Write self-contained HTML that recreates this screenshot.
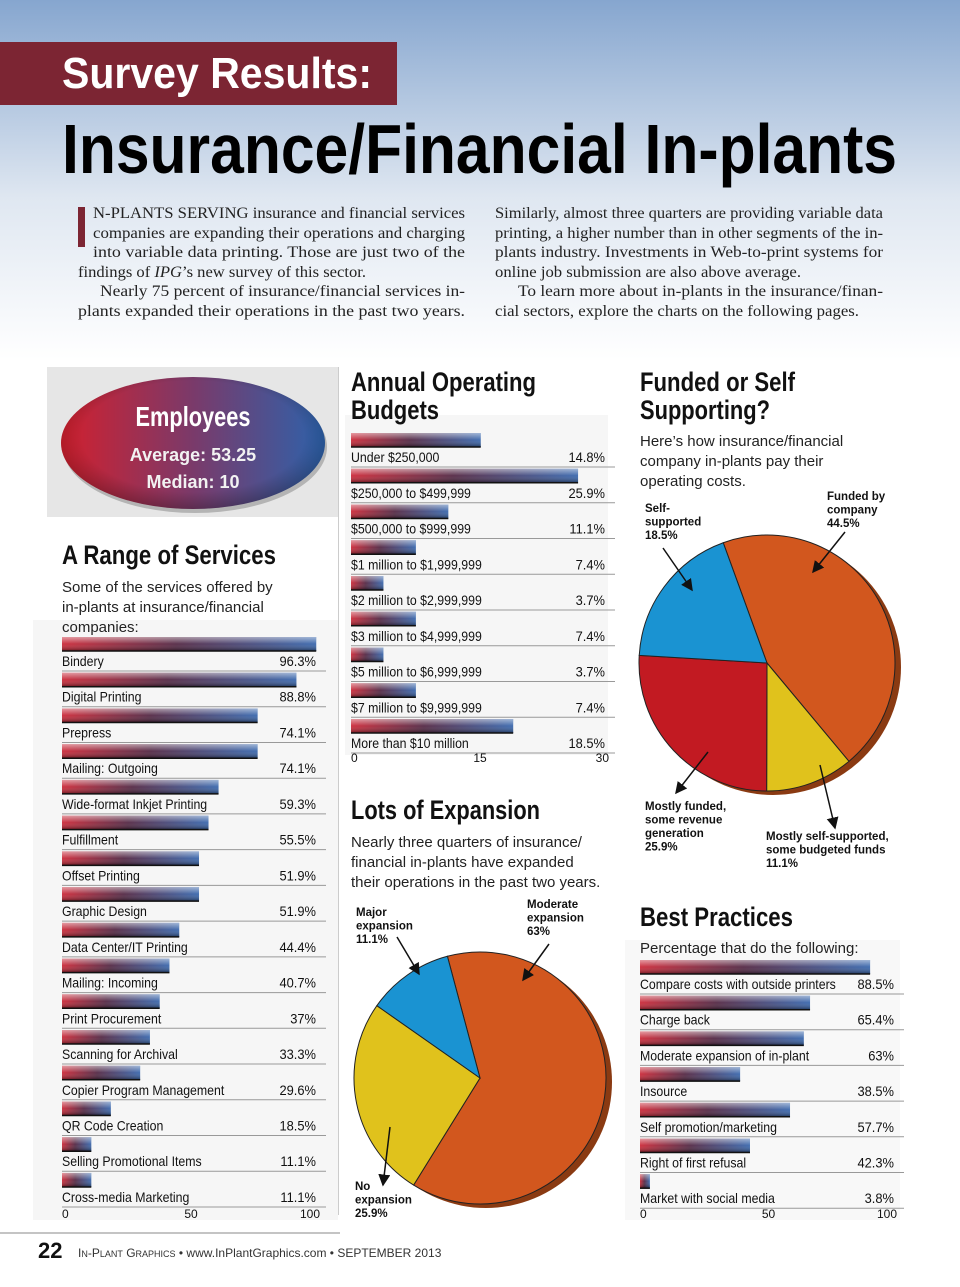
<!DOCTYPE html>
<html><head><meta charset="utf-8">
<style>
html,body{margin:0;padding:0;background:#fff;}
svg{display:block;}
.sans{font-family:"Liberation Sans",sans-serif;}
.serif{font-family:"Liberation Serif",serif;}
</style></head>
<body>
<svg id="page" width="960" height="1287" viewBox="0 0 960 1287" xmlns="http://www.w3.org/2000/svg">
<defs>
<linearGradient id="bg" x1="0" y1="0" x2="0" y2="1">
<stop offset="0" stop-color="#86a6cf"/><stop offset="0.55" stop-color="#dfe7f1"/><stop offset="1" stop-color="#ffffff"/>
</linearGradient>
<linearGradient id="barH" x1="0" y1="0" x2="1" y2="0">
<stop offset="0" stop-color="#c81e2e"/><stop offset="0.45" stop-color="#4a1c3a"/><stop offset="1" stop-color="#2f5fa8"/>
</linearGradient>
<linearGradient id="barV" x1="0" y1="0" x2="0" y2="1">
<stop offset="0" stop-color="#fff" stop-opacity="0.55"/><stop offset="0.5" stop-color="#fff" stop-opacity="0.1"/><stop offset="1" stop-color="#000" stop-opacity="0.45"/>
</linearGradient>
<linearGradient id="oval" x1="0" y1="0" x2="1" y2="0">
<stop offset="0" stop-color="#d2202e"/><stop offset="0.5" stop-color="#7a3a6a"/><stop offset="1" stop-color="#2d62ab"/>
</linearGradient>
<radialGradient id="ovalShade" cx="0.5" cy="0.45" r="0.6">
<stop offset="0.7" stop-color="#000" stop-opacity="0"/><stop offset="1" stop-color="#000" stop-opacity="0.35"/>
</radialGradient>
<marker id="arr" markerWidth="8" markerHeight="8" refX="7" refY="4" orient="auto"><path d="M0,0 L8,4 L0,8 z" fill="#111"/></marker>
</defs>
<rect x="0" y="0" width="960" height="360" fill="url(#bg)"/>
<rect x="0" y="42" width="397" height="63" fill="#7c2533"/>
<text x="62" y="88" class="sans" font-size="44" font-weight="bold" fill="#fff" textLength="310" lengthAdjust="spacingAndGlyphs">Survey Results:</text>
<text x="62" y="173" class="sans" font-size="70" font-weight="bold" fill="#000" textLength="835" lengthAdjust="spacingAndGlyphs">Insurance/Financial In-plants</text>

<g class="serif" font-size="15.5" fill="#222">
<rect x="78" y="207" width="7" height="40" fill="#7c2533"/>
<text x="93" y="218" textLength="372" lengthAdjust="spacingAndGlyphs">N-PLANTS SERVING insurance and financial services</text>
<text x="93" y="238" textLength="372" lengthAdjust="spacingAndGlyphs">companies are expanding their operations and charging</text>
<text x="93" y="257" textLength="372" lengthAdjust="spacingAndGlyphs">into variable data printing. Those are just two of the</text>
<text x="78" y="277" textLength="288" lengthAdjust="spacingAndGlyphs">findings of <tspan font-style="italic">IPG</tspan>’s new survey of this sector.</text>
<text x="100" y="296" textLength="365" lengthAdjust="spacingAndGlyphs">Nearly 75 percent of insurance/financial services in-</text>
<text x="78" y="316" textLength="387" lengthAdjust="spacingAndGlyphs">plants expanded their operations in the past two years.</text>
<text x="495" y="218" textLength="388" lengthAdjust="spacingAndGlyphs">Similarly, almost three quarters are providing variable data</text>
<text x="495" y="238" textLength="388" lengthAdjust="spacingAndGlyphs">printing, a higher number than in other segments of the in-</text>
<text x="495" y="257" textLength="388" lengthAdjust="spacingAndGlyphs">plants industry. Investments in Web-to-print systems for</text>
<text x="495" y="277" textLength="306" lengthAdjust="spacingAndGlyphs">online job submission are also above average.</text>
<text x="518" y="296" textLength="365" lengthAdjust="spacingAndGlyphs">To learn more about in-plants in the insurance/finan-</text>
<text x="495" y="316" textLength="364" lengthAdjust="spacingAndGlyphs">cial sectors, explore the charts on the following pages.</text>
</g>

<rect x="33" y="620" width="305" height="600" fill="#f6f6f6"/>
<rect x="345" y="415" width="263" height="340" fill="#f6f6f6"/>
<rect x="625" y="940" width="275" height="280" fill="#f8f8f8"/>
<rect x="47" y="367" width="291" height="150" fill="#e6e6e6"/>
<line x1="338.5" y1="367" x2="338.5" y2="1215" stroke="#ccc" stroke-width="1"/>

<g>
<ellipse cx="195" cy="447" rx="132" ry="66" fill="#555" opacity="0.35"/>
<ellipse cx="193" cy="443" rx="132" ry="66" fill="url(#oval)"/>
<ellipse cx="193" cy="443" rx="132" ry="66" fill="url(#ovalShade)"/>
<text x="193" y="426" text-anchor="middle" class="sans" font-size="28" font-weight="bold" fill="#fff" textLength="115" lengthAdjust="spacingAndGlyphs">Employees</text>
<text x="193" y="461" text-anchor="middle" class="sans" font-size="18" font-weight="bold" fill="#f2f2f2">Average: 53.25</text>
<text x="193" y="488" text-anchor="middle" class="sans" font-size="18" font-weight="bold" fill="#f2f2f2">Median: 10</text>
</g>

<g class="sans" font-weight="bold" font-size="27" fill="#111">
<text x="62" y="564" textLength="214" lengthAdjust="spacingAndGlyphs">A Range of Services</text>
<text x="351" y="391" textLength="185" lengthAdjust="spacingAndGlyphs">Annual Operating</text>
<text x="351" y="419" textLength="88" lengthAdjust="spacingAndGlyphs">Budgets</text>
<text x="640" y="391" textLength="155" lengthAdjust="spacingAndGlyphs">Funded or Self</text>
<text x="640" y="419" textLength="130" lengthAdjust="spacingAndGlyphs">Supporting?</text>
<text x="351" y="819" textLength="189" lengthAdjust="spacingAndGlyphs">Lots of Expansion</text>
<text x="640" y="926" textLength="153" lengthAdjust="spacingAndGlyphs">Best Practices</text>
</g>
<g class="sans" font-size="15" fill="#222">
<text x="62" y="592">Some of the services offered by</text>
<text x="62" y="612">in-plants at insurance/financial</text>
<text x="62" y="632">companies:</text>
<text x="640" y="446">Here’s how insurance/financial</text>
<text x="640" y="466">company in-plants pay their</text>
<text x="640" y="486">operating costs.</text>
<text x="351" y="847">Nearly three quarters of insurance/</text>
<text x="351" y="867">financial in-plants have expanded</text>
<text x="351" y="887">their operations in the past two years.</text>
<text x="640" y="953">Percentage that do the following:</text>
</g>

<g id="charts"></g>

<line x1="0" y1="1233" x2="340" y2="1233" stroke="#888" stroke-width="1"/>
<text x="38" y="1258" class="sans" font-size="22" font-weight="bold" fill="#111">22</text>
<text x="78" y="1257" class="sans" font-size="12" fill="#333">I<tspan font-size="9">N</tspan>-P<tspan font-size="9">LANT</tspan> G<tspan font-size="9">RAPHICS</tspan>  •  www.InPlantGraphics.com  •  SEPTEMBER 2013</text>
</svg>
<script>
// ---- data ----
const serviceCats = ["Bindery","Digital Printing","Prepress","Mailing: Outgoing","Wide-format Inkjet Printing","Fulfillment","Offset Printing","Graphic Design","Data Center/IT Printing","Mailing: Incoming","Print Procurement","Scanning for Archival","Copier Program Management","QR Code Creation","Selling Promotional Items","Cross-media Marketing"];
const serviceVals = [96.3,88.8,74.1,74.1,59.3,55.5,51.9,51.9,44.4,40.7,37,33.3,29.6,18.5,11.1,11.1];
const serviceLabels = ["96.3%","88.8%","74.1%","74.1%","59.3%","55.5%","51.9%","51.9%","44.4%","40.7%","37%","33.3%","29.6%","18.5%","11.1%","11.1%"];
const serviceTicks = [0,50,100];

const budgetCats = ["Under $250,000","$250,000 to $499,999","$500,000 to $999,999","$1 million to $1,999,999","$2 million to $2,999,999","$3 million to $4,999,999","$5 million to $6,999,999","$7 million to $9,999,999","More than $10 million"];
const budgetVals = [14.8,25.9,11.1,7.4,3.7,7.4,3.7,7.4,18.5];
const budgetTicks = [0,15,30];

const practiceCats = ["Compare costs with outside printers","Charge back","Moderate expansion of in-plant","Insource","Self promotion/marketing","Right of first refusal","Market with social media"];
const practiceVals = [88.5,65.4,63,38.5,57.7,42.3,3.8];
const practiceTicks = [0,50,100];

const fundLabels = ["Funded by company","Mostly self-supported, some budgeted funds","Mostly funded, some revenue generation","Self-supported"];
const fundVals = [44.5,11.1,25.9,18.5];
const fundColors = ["#d2571e","#e0c21c","#c21a22","#1a93d2"];

const expLabels = ["Moderate expansion","No expansion","Major expansion"];
const expVals = [63,25.9,11.1];
const expColors = ["#d2571e","#e0c21c","#1a93d2"];

const NS="http://www.w3.org/2000/svg";
const root=document.getElementById('charts');
function mk(tag,attrs,parent){const e=document.createElementNS(NS,tag);for(const k in attrs)e.setAttribute(k,attrs[k]);(parent||root).appendChild(e);return e;}
function squeeze(t,f){try{const w=t.getComputedTextLength();t.setAttribute('textLength',w*f);t.setAttribute('lengthAdjust','spacingAndGlyphs');}catch(e){}}

function barChart(name,cats,vals,labels,ticks,x0,x1,maxV,y0,pitch,labelSuffix,tickY,valRight,tickPos){
  const g=mk('g',{});
  
  
  const xs=v=>x0+(v/maxV)*(x1-x0);
  cats.forEach((c,i)=>{
    const ly=y0+i*pitch;
    const b=mk('rect',{x:x0,y:ly-29,width:xs(vals[i])-x0,height:14,fill:'url(#barH)'},g);
    
    
    mk('rect',{x:x0,y:ly-29,width:xs(vals[i])-x0,height:14,fill:'url(#barV)'},g);
    mk('line',{x1:x0,y1:ly-15,x2:xs(vals[i]),y2:ly-15,stroke:'#111','stroke-width':1.5},g);
    const t=mk('text',{x:x0,y:ly,'font-family':'"Liberation Sans",sans-serif','font-size':14,fill:'#111'},g);
    t.textContent=c;
    
    
    squeeze(t,0.88);
    const v=mk('text',{x:valRight,y:ly,'text-anchor':'end','font-family':'"Liberation Sans",sans-serif','font-size':14,fill:'#111'},g);
    v.textContent=labels?labels[i]:(vals[i]+labelSuffix);
    
    
    squeeze(v,0.92);
    mk('line',{x1:x0,y1:ly+5,x2:valRight+10,y2:ly+5,stroke:'#999','stroke-width':1},g);
  });
  ticks.forEach((tk,i)=>{
    const tx=tickPos(tk);
    const t=mk('text',{x:tx,y:tickY,'text-anchor':i===0?'start':(i===ticks.length-1?'end':'middle'),'font-family':'"Liberation Sans",sans-serif','font-size':12,fill:'#111'},g);
    t.textContent=tk;
    
    
  });
}
barChart('services-bar-chart',serviceCats,serviceVals,serviceLabels,serviceTicks,62,326,100,666,35.73,'%',1218,316,v=>62+(v/100)*(320-62));
barChart('budgets-bar-chart',budgetCats,budgetVals,null,budgetTicks,351,614,30,462,35.75,'%',762,605,v=>351+(v/30)*(609-351));
barChart('practices-bar-chart',practiceCats,practiceVals,null,practiceTicks,640,900,100,989,35.7,'%',1218,894,v=>640+(v/100)*(897-640));

function pie(name,cx,cy,r,vals,colors,startDeg,shadow){
  const g=mk('g',{});
  
  
  const tot=vals.reduce((a,b)=>a+b,0);
  const pt=(deg,rr)=>[cx+rr*Math.sin(deg*Math.PI/180),cy-rr*Math.cos(deg*Math.PI/180)];
  if(shadow){mk('ellipse',{cx:cx+6,cy:cy+4,rx:r,ry:r,fill:'#8a3a12'},g);}
  let a=startDeg;
  vals.forEach((v,i)=>{
    const sw=v/tot*360;const[x1,y1]=pt(a,r);const[x2,y2]=pt(a+sw,r);
    const p=mk('path',{d:`M${cx},${cy} L${x1},${y1} A${r},${r} 0 ${sw>180?1:0} 1 ${x2},${y2} Z`,fill:colors[i],stroke:'#222','stroke-width':1},g);
    
    
    a+=sw;
  });
}
pie('funding-pie',767,663,128,fundVals,fundColors,340,true);
pie('expansion-pie',480,1078,126,expVals,expColors,345,true);

function note(lines,x,y,name){
  const t=mk('text',{x:x,y:y,'font-family':'"Liberation Sans",sans-serif','font-size':11.5,'font-weight':'bold',fill:'#111'});
  
  
  lines.forEach((l,i)=>{const s=mk('tspan',{x:x,dy:i?13.5:0},t);s.textContent=l;});
}
function arrow(x1,y1,x2,y2){mk('line',{x1:x1,y1:y1,x2:x2,y2:y2,stroke:'#111','stroke-width':1.5,'marker-end':'url(#arr)'});}
note(["Funded by","company",fundVals[0]+"%"],827,500,'funded-by-company-label');
note(["Self-","supported",fundVals[3]+"%"],645,512,'self-supported-label');
note(["Mostly funded,","some revenue","generation",fundVals[2]+"%"],645,810,'mostly-funded-label');
note(["Mostly self-supported,","some budgeted funds",fundVals[1]+"%"],766,840,'mostly-self-supported-label');
arrow(845,532,813,572);arrow(663,548,692,590);arrow(708,752,676,793);arrow(820,765,835,828);
note(["Moderate","expansion",expVals[0]+"%"],527,908,'moderate-expansion-label');
note(["Major","expansion",expVals[2]+"%"],356,916,'major-expansion-label');
note(["No","expansion",expVals[1]+"%"],355,1190,'no-expansion-label');
arrow(549,944,523,980);arrow(397,937,419,974);arrow(390,1127,383,1185);
</script>
</body></html>
